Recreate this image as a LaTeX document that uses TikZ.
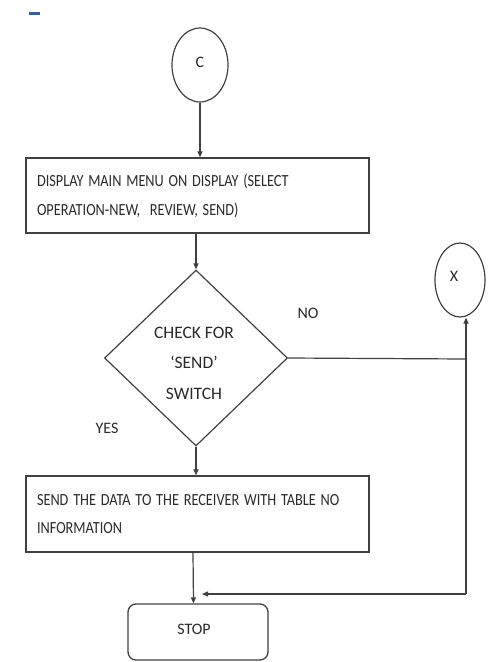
\documentclass[tikz,border=0pt]{standalone}
\usepackage{fontspec}
\newfontfamily\cf{Carlito}
\usetikzlibrary{shapes.geometric,arrows.meta}
\definecolor{ln}{HTML}{404040}
\definecolor{tx}{HTML}{2A2A2A}
\definecolor{mk}{HTML}{3D5C9E}
\newcommand{\sq}[1]{\scalebox{0.84}[1]{#1}}
\begin{document}
\begin{tikzpicture}[x=1pt,y=-1pt,
  every node/.style={text=tx},
  txt/.style={font=\cf\fontsize{16}{29}\selectfont},
  conn/.style={draw=ln,line width=1.2pt},
  arr/.style={conn,-{Triangle[length=6pt,width=5pt]}},
  proc/.style={draw=ln,line width=1.3pt,rectangle,minimum width=343pt,text width=321pt,align=left,inner sep=0pt,font=\cf\fontsize{17}{29}\selectfont},
  conn2/.style={draw=ln,line width=1.2pt,ellipse,inner sep=0pt,txt}]
\useasboundingbox (0,0) rectangle (489,662);
\fill[mk] (29,11.5) rectangle (40,14.5);
\node[conn2,minimum width=56pt,minimum height=74pt] (C) at (200,65) {\raisebox{6pt}{C}};
\node[proc,minimum height=75pt] (b1) at (197.5,195.5) {\sq{DISPLAY MAIN MENU ON DISPLAY (SELECT}\\\sq{OPERATION-NEW,\ \ REVIEW, SEND)}};
\node[diamond,draw=ln,line width=1.2pt,minimum width=183pt,minimum height=176pt,inner sep=0pt] (d) at (196,358) {};
\node[align=center,font=\cf\fontsize{17.5}{30.5}\selectfont] (dt) at (194,363) {CHECK FOR\\‘SEND’\\SWITCH};
\node[conn2,minimum width=50pt,minimum height=74pt] (X) at (460,280) {\raisebox{7pt}{X\hspace{12pt}}};
\node[proc,minimum height=76pt,font=\cf\fontsize{17}{27.5}\selectfont] (b2) at (197.5,514) {\sq{SEND THE DATA TO THE RECEIVER WITH TABLE NO}\\\sq{INFORMATION}};
\node[draw=ln,line width=1.3pt,rounded corners=8pt,minimum width=140pt,minimum height=56pt,inner sep=0pt,txt] (s) at (198,632) {\raisebox{6pt}{STOP\hspace{8pt}}};
\node[txt] (no) at (308,313) {NO};
\node[txt] (yes) at (107,428) {YES};
\coordinate (jn) at (466,359);
\coordinate (cr) at (466,594);
\coordinate (se) at (202,594);
\draw[arr] (C.south) -- (C.south |- b1.north);
\draw[arr] (d.north |- b1.south) -- (d.north);
\draw[arr] (d.south) -- (d.south |- b2.north);
\draw[arr] ([xshift=-4.5pt]b2.south) -- ([xshift=-4.5pt]s.north);
\draw[conn] (d.east) -- (jn);
\draw[arr] (cr) -- (X.south -| cr);
\draw[arr] (cr) -- (se);
\end{tikzpicture}
\end{document}
